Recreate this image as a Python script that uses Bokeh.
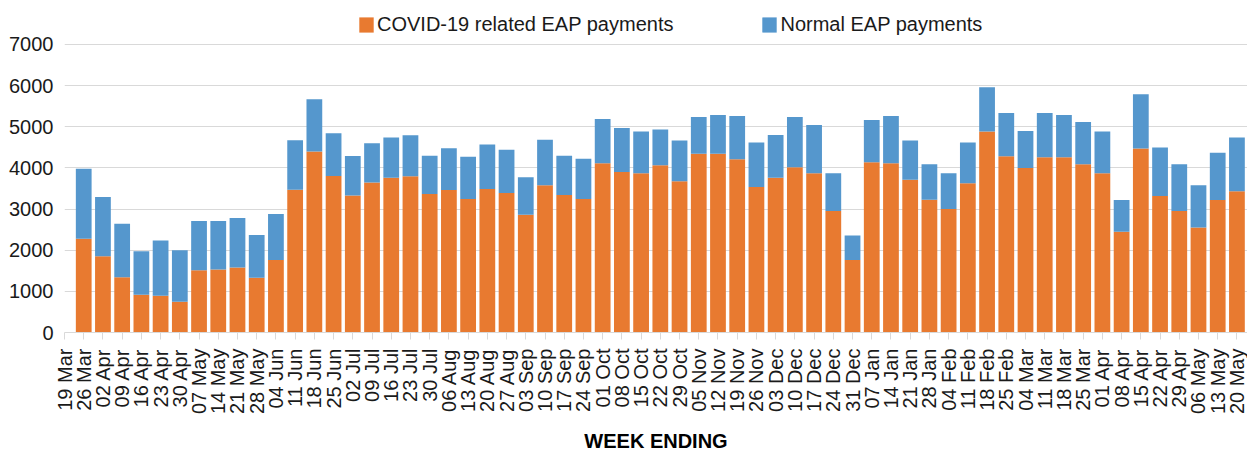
import math
from bokeh.plotting import figure
from bokeh.models import ColumnDataSource, Legend, LegendItem, FixedTicker, Range1d
from bokeh.embed import file_html
from bokeh.resources import INLINE

weeks = ["19 Mar", "26 Mar", "02 Apr", "09 Apr", "16 Apr", "23 Apr", "30 Apr", "07 May", "14 May",
         "21 May", "28 May", "04 Jun", "11 Jun", "18 Jun", "25 Jun", "02 Jul", "09 Jul", "16 Jul",
         "23 Jul", "30 Jul", "06 Aug", "13 Aug", "20 Aug", "27 Aug", "03 Sep", "10 Sep", "17 Sep",
         "24 Sep", "01 Oct", "08 Oct", "15 Oct", "22 Oct", "29 Oct", "05 Nov", "12 Nov", "19 Nov",
         "26 Nov", "03 Dec", "10 Dec", "17 Dec", "24 Dec", "31 Dec", "07 Jan", "14 Jan", "21 Jan",
         "28 Jan", "04 Feb", "11 Feb", "18 Feb", "25 Feb", "04 Mar", "11 Mar", "18 Mar", "25 Mar",
         "01 Apr", "08 Apr", "15 Apr", "22 Apr", "29 Apr", "06 May", "13 May", "20 May"]

covid = [0, 2280, 1850, 1345, 920, 895, 750, 1515, 1530, 1580, 1330, 1760, 3470, 4400, 3805, 3330,
         3645, 3760, 3795, 3365, 3462, 3243, 3486, 3389, 2862, 3576, 3340, 3243, 4111, 3900, 3868,
         4062, 3673, 4346, 4346, 4208, 3535, 3762, 4014, 3868, 2951, 1759, 4135, 4111, 3714, 3227,
         3000, 3624, 4881, 4281, 3997, 4257, 4257, 4086, 3868, 2449, 4468, 3316, 2951, 2554, 3219,
         3430]

normal = [0, 1700, 1440, 1300, 1055, 1340, 1250, 1195, 1180, 1200, 1040, 1120, 1200, 1270, 1035, 960,
          955, 980, 995, 932, 1014, 1030, 1079, 1054, 908, 1110, 957, 981, 1078, 1070, 1013,
          868, 989, 892, 940, 1054, 1079, 1038, 1224, 1175, 917, 600, 1030, 1151, 948, 859,
          868, 990, 1078, 1054, 900, 1078, 1029, 1030, 1013, 770, 1321, 1176, 1135, 1022, 1151,
          1305]

series_names = ["COVID-19 related EAP payments", "Normal EAP payments"]
y_ticks = [0, 1000, 2000, 3000, 4000, 5000, 6000, 7000]

ORANGE = "#E87A30"
BLUE = "#5597CD"
FONT = "Liberation Sans"
TXT = "#1a1a1a"

src = ColumnDataSource(dict(x=list(range(len(weeks))), covid=covid, normal=normal))

# frame extends above the 7000 gridline so the legend can sit inside it
p = figure(width=1247, height=455, output_backend="svg", toolbar_location=None,
           x_range=Range1d(0, 61.55), y_range=Range1d(0, 7945),
           min_border_left=64, min_border_right=0, min_border_top=5, min_border_bottom=122)
p.outline_line_color = None
p.background_fill_color = "white"
p.border_fill_color = "white"

rs = p.vbar_stack(["covid", "normal"], x="x", width=0.82, color=[ORANGE, BLUE],
                  line_color=None, source=src)

# grid
p.xgrid.grid_line_color = None
p.ygrid.grid_line_color = "#d9d9d9"
p.ygrid.grid_line_width = 1
p.yaxis.ticker = FixedTicker(ticks=y_ticks)
p.ygrid.ticker = FixedTicker(ticks=y_ticks)

# y axis
p.yaxis.axis_line_color = None
p.yaxis.major_tick_line_color = None
p.yaxis.minor_tick_line_color = None
p.yaxis.major_tick_out = 0
p.yaxis.major_label_standoff = 11
p.yaxis.major_label_text_font = FONT
p.yaxis.major_label_text_font_size = "20px"
p.yaxis.major_label_text_color = TXT

# x axis
p.xaxis.ticker = FixedTicker(ticks=list(range(len(weeks))))
p.xaxis.major_label_overrides = {i: w for i, w in enumerate(weeks)}
p.xaxis.major_label_orientation = math.pi / 2
p.xaxis.axis_line_color = "#d9d9d9"
p.xaxis.major_tick_line_color = "#d9d9d9"
p.xaxis.minor_tick_line_color = None
p.xaxis.major_tick_out = 7
p.xaxis.major_tick_in = 0
p.xaxis.major_label_standoff = 9
p.xaxis.major_label_text_font = FONT
p.xaxis.major_label_text_font_size = "20px"
p.xaxis.major_label_text_color = TXT
p.xaxis.axis_label = "WEEK ENDING"
p.xaxis.axis_label_text_font = FONT
p.xaxis.axis_label_text_font_style = "bold"
p.xaxis.axis_label_text_font_size = "20px"
p.xaxis.axis_label_text_color = "black"
p.xaxis.axis_label_standoff = 13

legend = Legend(items=[LegendItem(label=series_names[0], renderers=[rs[0]]),
                       LegendItem(label=series_names[1], renderers=[rs[1]])],
                location=(293, 296), orientation="horizontal",
                glyph_width=18, glyph_height=19, label_standoff=2, spacing=87,
                padding=0, margin=0, border_line_color=None, background_fill_alpha=0,
                label_text_font=FONT, label_text_font_size="20px", label_text_color=TXT)
p.add_layout(legend)

open("out.html", "w").write(file_html(p, INLINE))
